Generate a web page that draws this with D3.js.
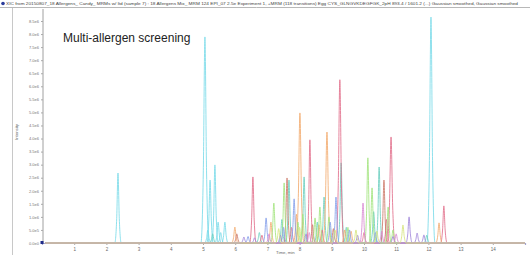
<!DOCTYPE html>
<html>
<head>
<meta charset="utf-8">
<script src="https://cdn.jsdelivr.net/npm/d3@7"></script>
<style>
  html, body { margin: 0; padding: 0; background: #fff; }
  svg { display: block; font-family: "Liberation Sans", Arial, sans-serif; }
</style>
</head>
<body>
<svg id="chart" width="530" height="255"></svg>
<script>
// peak apexes: [time (min), intensity (x1e6 cps)]
const cyanPeaks    = [[2.36, 2.68], [5.06, 7.89], [5.15, 0.50], [5.22, 2.41], [5.37, 2.99], [5.47, 0.80], [5.55, 0.40], [5.68, 0.80], [12.08, 8.65]];
const tealPeaks    = [[5.30, 0.35], [6.75, 0.40], [7.45, 0.90], [7.67, 2.41], [8.14, 2.53], [8.55, 0.80], [8.76, 1.76], [9.29, 3.07], [9.45, 0.60], [10.30, 1.20], [10.47, 2.91], [11.95, 0.30]];
const redPeaks     = [[6.55, 2.53], [6.83, 0.30], [7.75, 0.60], [8.32, 3.95], [8.70, 0.50], [9.25, 6.25], [10.00, 0.40], [10.70, 0.90], [10.84, 4.06], [12.48, 1.42]];
const orangePeaks  = [[5.99, 0.61], [7.11, 0.80], [7.90, 1.10], [8.01, 4.98], [8.60, 0.70], [8.85, 4.25], [9.40, 0.50], [9.60, 0.45], [12.33, 0.77]];
const brownPeaks   = [[6.05, 0.35], [7.61, 2.49], [8.40, 0.70], [9.05, 0.55], [10.62, 2.41]];
const greenPeaks   = [[7.20, 1.53], [7.52, 2.30], [7.95, 0.80], [8.10, 1.10], [8.48, 0.96], [8.63, 1.38], [8.91, 1.00], [9.50, 0.60], [10.12, 3.26], [10.25, 2.11], [10.75, 1.38], [10.90, 0.50]];
const bluePeaks    = [[6.40, 0.25], [6.96, 0.96], [7.50, 0.60], [7.83, 1.69], [8.95, 0.80], [9.13, 1.76], [9.55, 0.50], [10.35, 0.40]];
const purplePeaks  = [[6.27, 0.23], [6.60, 0.20], [7.40, 0.30], [8.20, 0.35], [9.80, 0.30], [10.90, 0.25], [11.40, 1.00], [11.65, 0.38], [11.86, 0.31]];
const magentaPeaks = [[7.05, 0.35], [8.30, 0.40], [9.97, 1.53], [10.55, 0.45], [11.00, 0.35]];
const limePeaks    = [[7.35, 0.55], [8.00, 0.60], [9.10, 0.50], [9.75, 0.50], [10.40, 0.45], [11.21, 0.69]];

const seriesList = [
  { name: 'cyan',    color: '#7adbe9', peaks: cyanPeaks },
  { name: 'teal',    color: '#6ccfc0', peaks: tealPeaks },
  { name: 'red',     color: '#e2708c', peaks: redPeaks },
  { name: 'orange',  color: '#f2ab70', peaks: orangePeaks },
  { name: 'brown',   color: '#cc7a6a', peaks: brownPeaks },
  { name: 'green',   color: '#a2e47e', peaks: greenPeaks },
  { name: 'blue',    color: '#86a0ea', peaks: bluePeaks },
  { name: 'purple',  color: '#a288da', peaks: purplePeaks },
  { name: 'magenta', color: '#d88ad2', peaks: magentaPeaks },
  { name: 'lime',    color: '#d6e47e', peaks: limePeaks }
];

const xTicks = d3.range(1, 15);            // 1 .. 14 min
const yTicks = d3.range(0, 8.51, 0.5);     // 0 .. 8.5e6
const yTickLabel = v => v === 0 ? '0.0e0' : v < 1 ? (v * 10).toFixed(1) + 'e5' : v.toFixed(1) + 'e6';

const headerText = 'XIC from 20150807_18 Allergens_ Candy_ MRMs w/ ltd (sample 7) : 18 Allergens Mix_ MRM 124 EPI_07 2.5e Experiment 1, +MRM (118 transitions) Egg CYS_GLNGVKDEGFGK_2pH 893.4 / 1601.2 (...) Gaussian smoothed, Gaussian smoothed';

const svg = d3.select('#chart');
const W = 530, H = 255;
const m = { left: 42, right: 5, top: 21, bottom: 12 };

const x = d3.scaleLinear().domain([0, 15]).range([m.left, W - m.right]);
const y = d3.scaleLinear().domain([0, 8.5]).range([H - m.bottom, m.top]);

// frame / header
svg.append('line').attr('x1', 0).attr('x2', W).attr('y1', 7.5).attr('y2', 7.5)
  .attr('stroke', '#b8b8b8').attr('stroke-width', 1);
svg.append('line').attr('x1', 12.5).attr('x2', 12.5).attr('y1', 8).attr('y2', H)
  .attr('stroke', '#c8c8c8').attr('stroke-width', 1);
svg.append('circle').attr('cx', 3).attr('cy', 3.5).attr('r', 1.8).attr('fill', '#2a3a9a');
svg.append('text').attr('x', 6).attr('y', 5).attr('font-size', 3.6).attr('fill', '#444')
  .attr('textLength', 512).attr('lengthAdjust', 'spacingAndGlyphs').text(headerText);

// axes
const yAxis = d3.axisLeft(y).tickValues(yTicks).tickFormat(yTickLabel).tickSize(2).tickPadding(2);
const xAxis = d3.axisBottom(x).tickValues(xTicks).tickFormat(d3.format('d')).tickSize(2).tickPadding(3);

const gy = svg.append('g').attr('transform', `translate(${m.left + 1},0)`).call(yAxis);
gy.select('.domain').attr('stroke', '#a0a0a0').attr('d', `M0,${m.top - 12}V${H - m.bottom}`);
gy.selectAll('line').attr('stroke', '#aaa');
gy.selectAll('text').attr('font-size', 4).attr('fill', '#777').attr('font-family', '"Liberation Sans", Arial, sans-serif');

const gx = svg.append('g').attr('transform', `translate(0,${H - m.bottom})`).call(xAxis);
gx.select('.domain').attr('stroke', '#a4a4cc').attr('stroke-width', 1.2);
gx.selectAll('line').attr('stroke', '#aaa');
gx.selectAll('text').attr('font-size', 4.5).attr('fill', '#666').attr('font-family', '"Liberation Sans", Arial, sans-serif');

svg.append('text').attr('x', 276).attr('y', 254).attr('font-size', 4.3).attr('fill', '#666').text('Time, min');
svg.append('text').attr('transform', 'translate(18,140) rotate(-90)').attr('font-size', 4.3)
  .attr('fill', '#666').text('Intensity');

// traces: each apex drawn as a narrow spike on the baseline
const hw = 0.1;
const line = d3.line().x(d => x(d[0])).y(d => y(d[1])).curve(d3.curveMonotoneX);
function tracePoints(peaks) {
  const pts = [[0.1, 0]];
  peaks.slice().sort((a, b) => a[0] - b[0]).forEach(([t, h]) => {
    const w = hw * (h > 4 ? 1.25 : 1);
    pts.push([t - w, 0], [t - w * 0.4, h * 0.35], [t, h], [t + w * 0.4, h * 0.35], [t + w, 0]);
  });
  pts.push([15, 0]);
  return pts;
}

svg.append('g').attr('class', 'traces')
  .selectAll('path')
  .data(seriesList)
  .join('path')
  .attr('d', d => line(tracePoints(d.peaks)))
  .attr('fill', 'none')
  .attr('stroke', d => d.color)
  .attr('stroke-width', 1)
  .attr('stroke-opacity', 0.85)
  .attr('stroke-linejoin', 'round');

// origin marker
svg.append('rect').attr('x', x(0) - 1.5).attr('y', y(0) - 2).attr('width', 3).attr('height', 3)
  .attr('fill', '#1e2a8a');

// title
svg.append('text').attr('x', 63).attr('y', 42).attr('font-size', 12).attr('fill', '#222')
  .text('Multi-allergen screening');
</script>
</body>
</html>
